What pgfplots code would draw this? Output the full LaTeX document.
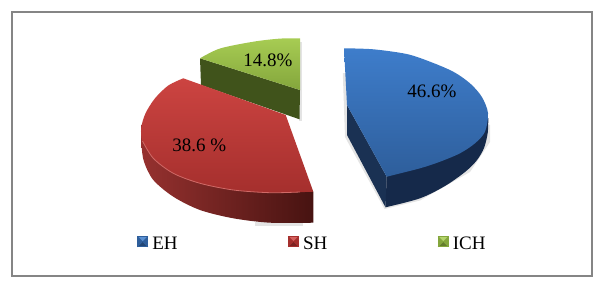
\documentclass[border=0pt]{standalone}
\usepackage{fontspec}
\setmainfont{Liberation Serif}
\usepackage{pgfplots}
\pgfplotsset{compat=1.18}
\definecolor{frame}{HTML}{858585}
\definecolor{shad}{HTML}{E4E4E4}
\definecolor{bluetop}{HTML}{3E7DCB}
\definecolor{bluebot}{HTML}{2E5E9B}
\definecolor{blueside}{HTML}{15294A}
\definecolor{bluecut}{HTML}{1A3153}
\definecolor{redtop}{HTML}{CC4441}
\definecolor{redbot}{HTML}{A52F2D}
\definecolor{redsideL}{HTML}{96312F}
\definecolor{redsideR}{HTML}{471311}
\definecolor{redrim}{HTML}{D06A67}
\definecolor{greentop}{HTML}{A7CC53}
\definecolor{greenbot}{HTML}{84A63C}
\definecolor{greenside}{HTML}{40531B}
\newcommand{\bevel}[4]{%
  \begin{scope}[yshift=2pt]
  \fill[#2] (0pt,-5pt) -- (10pt,-5pt) -- (5pt,0pt) -- cycle;
  \fill[#3] (0pt,5pt) -- (10pt,5pt) -- (5pt,0pt) -- cycle;
  \fill[#4] (0pt,-5pt) -- (0pt,5pt) -- (5pt,0pt) -- cycle;
  \fill[#4] (10pt,-5pt) -- (10pt,5pt) -- (5pt,0pt) -- cycle;
  \draw[#1,line width=.7pt] (0pt,-5pt) rectangle (10pt,5pt);
  \end{scope}
}
\begin{document}
\begin{tikzpicture}
\begin{axis}[
  scale only axis, width=605pt, height=289pt,
  xmin=0, xmax=605, ymin=0, ymax=289, y dir=reverse,
  hide axis, clip=false,
  legend columns=3,
  legend cell align=left,
  legend style={at={(axis cs:137.3,243.5)}, anchor=west, draw=none, fill=none,
    inner sep=0pt, outer sep=0pt,
    nodes={inner xsep=0pt, inner ysep=0pt},
    font=\fontsize{19}{22}\selectfont,
    /tikz/every odd column/.append style={column sep=4.3pt},
    /tikz/every even column/.append style={column sep=110.5pt}},
]
\path (axis cs:0,0) rectangle (axis cs:605,289);
% frame
\addplot[forget plot, draw=frame, line width=2pt] coordinates {(12,12) (592,12) (592,276) (12,276)} -- cycle;
% shadows
\addplot[forget plot, draw=none, fill=shad] coordinates {(342.8,73) (345,137) (384.5,209) (420,200.5) (470,172) (490,142) (490,125) (345,73)} -- cycle;
\addplot[forget plot, draw=none, fill=shad] coordinates {(255,226) (303,226) (303,222) (255,222)} -- cycle;
\addplot[forget plot, draw=none, fill=shad] coordinates {(299,42) (302,42) (302,121) (299,121)} -- cycle;
% ICH
\addplot[forget plot, draw=none, fill=greenside] coordinates {(200,58.3) (300,90) (299.5,119.3) (201,85)} -- cycle;
\addplot[forget plot, smooth, draw=none, top color=greentop, bottom color=greenbot] coordinates {
 (200,58.3) (220,48.5) (253.3,41.7) (280,38.6) (300,38.3)} -- (axis cs:300,90) -- cycle;
% SH
\addplot[forget plot, smooth, draw=none, left color=redsideL, right color=redsideR] coordinates {
 (141,125) (141.5,145) (144,161.7) (153.3,180) (173.3,196.7) (200,210) (233.3,218.3) (270,222.7) (313.3,222.7)} -- (axis cs:313.3,191.7) -- (axis cs:200,120) -- cycle;
\addplot[forget plot, smooth, draw=none, top color=redtop, bottom color=redbot] coordinates {
 (183.3,78.3) (168.3,85.5) (155,98.3) (145.5,113.3) (141.2,128) (142.5,141) (153.3,158.3) (173.3,173.3) (200,183.3) (233.3,190) (270,192.7) (313.3,191.7)} -- (axis cs:285.7,115) -- cycle;
\addplot[forget plot, smooth, draw=redrim, line width=.8pt] coordinates {
 (142.5,141) (153.3,158.3) (173.3,173.3) (200,183.3) (233.3,190) (270,192.7) (300,192)};
% EH
\addplot[forget plot, draw=none, fill=bluecut] coordinates {(347,105) (386.7,176.7) (385.5,207.3) (347,135)} -- cycle;
\addplot[forget plot, smooth, draw=none, fill=blueside] coordinates {
 (488.3,118) (487.7,133) (484,148) (476.7,160.5) (465,172) (445,186) (420,198.3) (385.5,207.3)} -- (axis cs:386.7,176.7) -- (axis cs:420,150) -- cycle;
\addplot[forget plot, smooth, draw=none, top color=bluetop, bottom color=bluebot] coordinates {
 (344,48.3) (373.3,49.3) (406.7,54) (430,61.7) (453.3,71.7) (470,83.3) (481.7,96.7) (488,113) (485,131.7) (475,143.3) (460,153.3) (440,161.7) (420,168.3) (386.7,176.7)} -- (axis cs:347,105) -- cycle;
% labels
\node[anchor=base, inner sep=0pt, font=\fontsize{19}{22}\selectfont] at (axis cs:432,97) {46.6\%};
\node[anchor=base, inner sep=0pt, font=\fontsize{19}{22}\selectfont] at (axis cs:199.3,151.5) {38.6 \%};
\node[anchor=base, inner sep=0pt, font=\fontsize{19}{22}\selectfont] at (axis cs:268,66) {14.8\%};
% legend
\addlegendimage{legend image code/.code={\bevel{bluebot}{bluebot!75!black}{bluetop!85!white}{bluebot}}}
\addlegendentry{EH}
\addlegendimage{legend image code/.code={\bevel{redbot}{redbot!75!black}{redtop!85!white}{redbot}}}
\addlegendentry{SH}
\addlegendimage{legend image code/.code={\bevel{greenbot}{greenbot!75!black}{greentop!85!white}{greenbot}}}
\addlegendentry{ICH}
\end{axis}
\end{tikzpicture}
\end{document}
